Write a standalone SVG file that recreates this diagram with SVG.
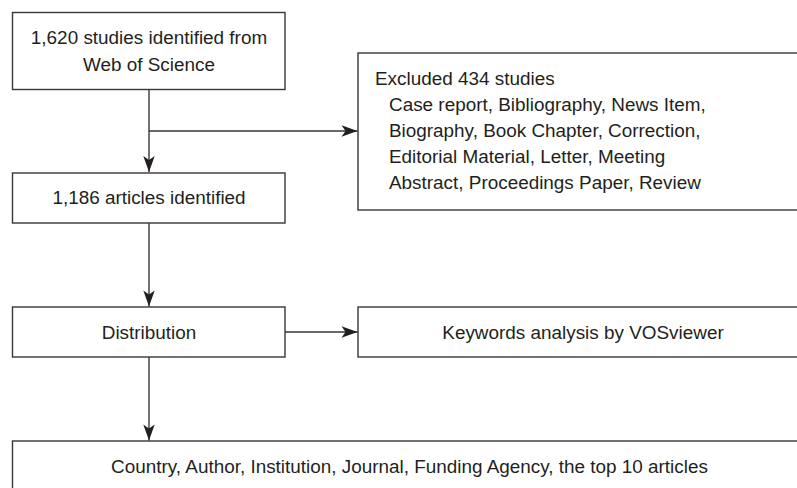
<svg xmlns="http://www.w3.org/2000/svg" width="797" height="488" viewBox="0 0 797 488">
<style>
.box{fill:#fff;stroke:#3a3536;stroke-width:1.4}
.t{font-family:"Liberation Sans",Arial,sans-serif;font-size:18.9px;fill:#231f20}
.c{text-anchor:middle}
.ln{fill:none;stroke:#3a3536;stroke-width:1.4}
</style>
<defs>
<marker id="ah" viewBox="-17 -7 18 14" refX="0" refY="0" markerWidth="18" markerHeight="14" markerUnits="userSpaceOnUse" orient="auto">
<path d="M0,0 L-16,-5.7 L-12,0 L-16,5.7 Z" fill="#231f20"/>
</marker>
</defs>
<rect width="797" height="488" fill="#fff"/>
<g id="connectors">
<line class="ln" x1="149" y1="89" x2="149" y2="172" marker-end="url(#ah)"/>
<line class="ln" x1="149" y1="131" x2="357.5" y2="131" marker-end="url(#ah)"/>
<line class="ln" x1="149" y1="223" x2="149" y2="306.5" marker-end="url(#ah)"/>
<line class="ln" x1="285" y1="332" x2="357.5" y2="332" marker-end="url(#ah)"/>
<line class="ln" x1="149" y1="357" x2="149" y2="440.5" marker-end="url(#ah)"/>
</g>
<g id="n1">
<rect class="box" x="12.5" y="12.5" width="272.5" height="77"/>
<text class="t c" x="149" y="44">1,620 studies identified from</text>
<text class="t c" x="149" y="70.5">Web of Science</text>
</g>
<g id="n2">
<rect class="box" x="358" y="53" width="460" height="157"/>
<text class="t" x="375" y="85">Excluded 434 studies</text>
<text class="t" x="389" y="111">Case report, Bibliography, News Item,</text>
<text class="t" x="389" y="137">Biography, Book Chapter, Correction,</text>
<text class="t" x="389" y="163">Editorial Material, Letter, Meeting</text>
<text class="t" x="389" y="189">Abstract, Proceedings Paper, Review</text>
</g>
<g id="n3">
<rect class="box" x="12.5" y="173" width="272.5" height="50"/>
<text class="t c" x="149" y="204">1,186 articles identified</text>
</g>
<g id="n4">
<rect class="box" x="12.5" y="307" width="272.5" height="50"/>
<text class="t c" x="149" y="339">Distribution</text>
</g>
<g id="n5">
<rect class="box" x="358" y="307" width="450" height="50"/>
<text class="t c" x="583" y="339">Keywords analysis by VOSviewer</text>
</g>
<g id="n6">
<rect class="box" x="12.5" y="441" width="795" height="60"/>
<text class="t c" x="409.5" y="472.5">Country, Author, Institution, Journal, Funding Agency, the top 10 articles</text>
</g>
</svg>
